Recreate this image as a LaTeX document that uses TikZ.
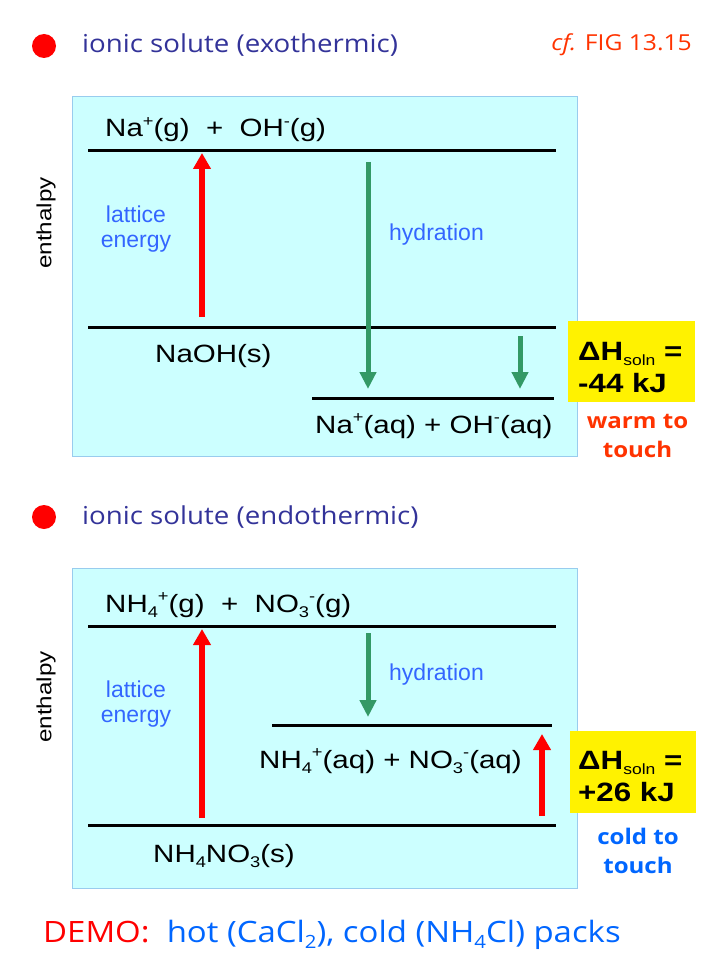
\documentclass[tikz,border=0pt]{standalone}
\usepackage{fontspec}
\usepackage{graphicx}
\usetikzlibrary{arrows.meta}
\setmainfont{Liberation Sans}
\newfontfamily\widesans[FakeStretch=1.18]{Liberation Sans}
\newfontfamily\comic[FakeStretch=1.12]{Open Sans}
\definecolor{titleblue}{RGB}{51,51,153}
\definecolor{labelblue}{RGB}{51,102,255}
\definecolor{demoblue}{RGB}{0,102,255}
\definecolor{hotred}{RGB}{255,51,0}
\definecolor{hydgreen}{RGB}{51,153,102}
\definecolor{panelcyan}{RGB}{204,255,255}
\definecolor{paneledge}{RGB}{153,204,238}
\newcommand\up[1]{\raisebox{.42em}{\scalebox{.62}{#1}}}
\newcommand\dn[1]{\raisebox{-.22em}{\scalebox{.62}{#1}}}
\newcommand\solnsub{\raisebox{-.2em}{\scalebox{.56}{\mdseries soln}}}
\begin{document}
\begin{tikzpicture}[x=1pt,y=-1pt,
    enlevel/.style={line width=3pt},
    lattice/.style={line width=6pt,red,-{Triangle[width=17pt,length=16pt]}},
    hydr/.style={line width=5pt,hydgreen,-{Triangle[width=16pt,length=17pt]}},
    panel/.style={fill=panelcyan,draw=paneledge,line width=1pt},
    chem/.style={inner sep=0pt,anchor=base west,font=\widesans\fontsize{25}{30}\selectfont},
    lbl/.style={inner sep=0pt,anchor=base west,labelblue,font=\fontsize{23}{25}\selectfont},
    axislbl/.style={inner sep=0pt,rotate=90,font=\widesans\fontsize{20.5}{24}\selectfont},
    title/.style={inner sep=0pt,anchor=base west,titleblue,font=\comic\fontsize{24.7}{30}\selectfont},
    solnbox/.style={fill=yellow},
    soln/.style={inner sep=0pt,anchor=base west,align=left,font=\widesans\bfseries\fontsize{26.5}{32}\selectfont},
    touch/.style={inner sep=0pt,anchor=base,align=center,font=\comic\bfseries\fontsize{21.5}{29}\selectfont}]
\useasboundingbox[fill=white] (0,0) rectangle (720,960);

% exothermic
\fill[red] (44,46) circle[radius=12];
\node[title] (exo) at (82,53) {ionic solute (exothermic)};
\node[inner sep=0pt,anchor=base east,hotred,font=\comic\fontsize{22}{24}\selectfont] (cf) at (692,51) {\textit{cf.} FIG 13.15};
\draw[panel] (72,97) rectangle (577,456);
\node[axislbl] (enthA) at (46,223) {enthalpy};
\coordinate (gasA) at (88,151);  \coordinate (gasAe) at (556,151);
\coordinate (solA) at (88,327.5); \coordinate (solAe) at (556,327.5);
\coordinate (aqA) at (312,398);   \coordinate (aqAe) at (554,398);
\draw[enlevel] (gasA) -- (gasAe) (solA) -- (solAe) (aqA) -- (aqAe);
\node[chem] (gasAt) at (105,137) {Na\up{+}(g)~~+~~OH\up{-}(g)};
\node[chem] (solAt) at (155,362) {NaOH(s)};
\node[chem] (aqAt) at (315,433) {Na\up{+}(aq) + OH\up{-}(aq)};
\node[lbl,anchor=base,align=center] (latAt) at (136,247) {lattice\\energy};
\node[lbl] (hydAt) at (389,240) {hydration};
\coordinate (latA0) at (202,317); \coordinate (latA1) at (202,153);
\coordinate (hydA0) at (368,162); \coordinate (hydA1) at (368,389);
\coordinate (netA0) at (520,336); \coordinate (netA1) at (520,389);
\draw[lattice] (latA0) -- (latA1);
\draw[hydr] (hydA0) -- (hydA1);
\draw[hydr] (netA0) -- (netA1);
\fill[solnbox] (568,321) rectangle (695,402);
\node[soln] (dHA) at (578,392) {ΔH\solnsub{} =\\-44 kJ};
\node[touch,hotred] (warm) at (637.5,457) {warm to\\touch};

% endothermic
\fill[red] (44,517) circle[radius=12];
\node[title] (endo) at (82,524) {ionic solute (endothermic)};
\draw[panel] (72,568) rectangle (577,888);
\node[axislbl] (enthB) at (46,697) {enthalpy};
\coordinate (gasB) at (88,626.5);  \coordinate (gasBe) at (556,626.5);
\coordinate (aqB) at (272,725.5);  \coordinate (aqBe) at (552,725.5);
\coordinate (solB) at (88,825.5);  \coordinate (solBe) at (556,825.5);
\draw[enlevel] (gasB) -- (gasBe) (aqB) -- (aqBe) (solB) -- (solBe);
\node[chem] (gasBt) at (105,612) {NH\dn{4}\up{+}(g)~~+~~NO\dn{3}\up{-}(g)};
\node[chem] (aqBt) at (259,768) {NH\dn{4}\up{+}(aq) + NO\dn{3}\up{-}(aq)};
\node[chem] (solBt) at (153,862) {NH\dn{4}NO\dn{3}(s)};
\node[lbl,anchor=base,align=center] (latBt) at (136,722) {lattice\\energy};
\node[lbl] (hydBt) at (389,680) {hydration};
\coordinate (latB0) at (202,818); \coordinate (latB1) at (202,629);
\coordinate (hydB0) at (368,633); \coordinate (hydB1) at (368,717);
\coordinate (netB0) at (542,816); \coordinate (netB1) at (542,734);
\draw[lattice] (latB0) -- (latB1);
\draw[hydr] (hydB0) -- (hydB1);
\draw[lattice] (netB0) -- (netB1);
\fill[solnbox] (570,731) rectangle (696,813);
\node[soln] (dHB) at (578,801) {ΔH\solnsub{} =\\+26 kJ};
\node[touch,demoblue] (cold) at (638,873) {cold to\\touch};

\node[inner sep=0pt,anchor=base west,demoblue,font=\comic\fontsize{29.4}{34}\selectfont] (demo) at (43,942)
  {\textcolor{red}{DEMO:}~~hot (CaCl\dn{2}), cold (NH\dn{4}Cl) packs};
\end{tikzpicture}
\end{document}
